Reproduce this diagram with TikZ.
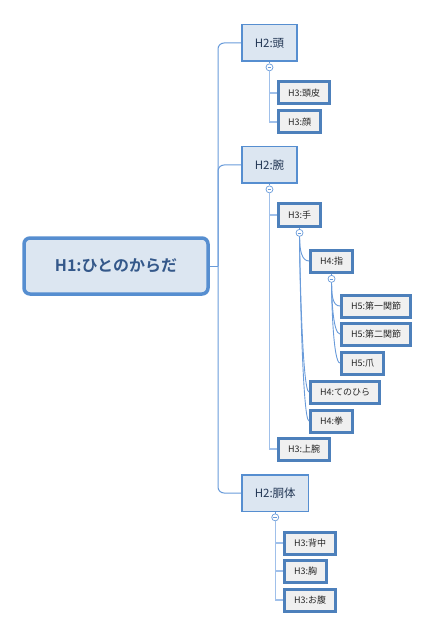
\documentclass[tikz,border=0pt]{standalone}
\usepackage{fontspec}
\setmainfont{Noto Sans CJK JP}[BoldFont={Noto Sans CJK JP Bold}]
\usetikzlibrary{positioning}

\definecolor{mapblue}{RGB}{86,142,208}
\definecolor{linkblue}{RGB}{105,155,218}
\definecolor{paleblue}{RGB}{160,192,234}
\definecolor{topicfill}{RGB}{220,230,241}
\definecolor{leaffill}{RGB}{240,240,240}
\definecolor{rootink}{RGB}{52,88,138}
\definecolor{topicink}{RGB}{35,55,85}

\begin{document}
\begin{tikzpicture}[
    x=1pt, y=-1pt,
    root/.style={draw=mapblue, line width=3.5pt, fill=topicfill, rounded corners=6pt,
                 minimum width=184pt, minimum height=56pt, text=rootink,
                 font=\fontsize{16}{18}\selectfont\bfseries},
    topic/.style={draw=mapblue, line width=1.5pt, fill=topicfill, anchor=west,
                  minimum height=36.5pt, inner xsep=13pt, text=topicink,
                  font=\fontsize{11.5}{13}\selectfont},
    leaf/.style={draw=mapblue!90!black, line width=3pt, fill=leaffill, anchor=west,
                 minimum height=22pt, inner xsep=9.5pt, text=black!85,
                 font=\fontsize{9}{11}\selectfont},
    fold/.style={circle, draw=linkblue, fill=white, line width=0.7pt, inner sep=0pt,
                 minimum size=7pt, node distance=1.5pt,
                 path picture={\draw[linkblue, line width=0.6pt]
                   ([xshift=1.6pt]path picture bounding box.west) --
                   ([xshift=-1.6pt]path picture bounding box.east);}},
    trunk/.style={draw=linkblue, line width=1pt, rounded corners=6pt},
    branch/.style={draw=paleblue, line width=1.2pt},
    twig/.style={draw=linkblue, line width=0.9pt},
]
\useasboundingbox (0,0) rectangle (426,628);

% root and main topics
\node[root] (root) at (116,266) {H1:ひとのからだ};
\coordinate (spine) at (218,266);
\node[topic] (head) at (241,43) {H2:頭};
\node[topic] (arm) at (241,165) {H2:腕};
\node[topic] (torso) at (241,493) {H2:胴体};

% head
\node[fold, below=of head] (headfold) {};
\node[leaf] (scalp) at (277,93) {H3:頭皮};
\node[leaf] (face) at (277,122) {H3:顔};

% arm
\node[fold, below=of arm] (armfold) {};
\node[leaf] (hand) at (277,215) {H3:手};
\node[fold, below=of hand] (handfold) {};
\node[leaf] (finger) at (309,261) {H4:指};
\node[fold, below=of finger] (fingerfold) {};
\node[leaf] (joint1) at (340,306) {H5:第一関節};
\node[leaf] (joint2) at (340,334) {H5:第二関節};
\node[leaf] (nail) at (340,363) {H5:爪};
\node[leaf] (palm) at (309,392) {H4:てのひら};
\node[leaf] (fist) at (309,421) {H4:拳};
\node[leaf] (upperarm) at (277,449) {H3:上腕};

% torso
\node[fold, below=of torso] (torsofold) {};
\node[leaf] (back) at (283,543) {H3:背中};
\node[leaf] (chest) at (283,571) {H3:胸};
\node[leaf] (belly) at (283,600) {H3:お腹};

% spine
\draw[trunk] (root.east) -- (spine);
\draw[trunk] (head.west) -| (spine);
\draw[trunk] (arm.west) -| (spine);
\draw[trunk] (torso.west) -| (spine);

% folds
\foreach \p/\f in {head/headfold, arm/armfold, hand/handfold, finger/fingerfold, torso/torsofold}
  \draw[twig] (\p.south) -- (\f.north);

% level 3
\foreach \c in {scalp, face}
  \draw[branch] (headfold.south) |- (\c.west);
\foreach \c in {hand, upperarm}
  \draw[branch] (armfold.south) |- (\c.west);
\foreach \c in {back, chest, belly}
  \draw[branch] (torsofold.south) |- (\c.west);

% level 4 and 5
\foreach \c in {finger, palm, fist}
  \draw[twig] (handfold.south) .. controls +(0,14) and +(-7,0) .. (\c.west);
\foreach \c in {joint1, joint2, nail}
  \draw[twig] (fingerfold.south) .. controls +(0,14) and +(-7,0) .. (\c.west);
\end{tikzpicture}
\end{document}
